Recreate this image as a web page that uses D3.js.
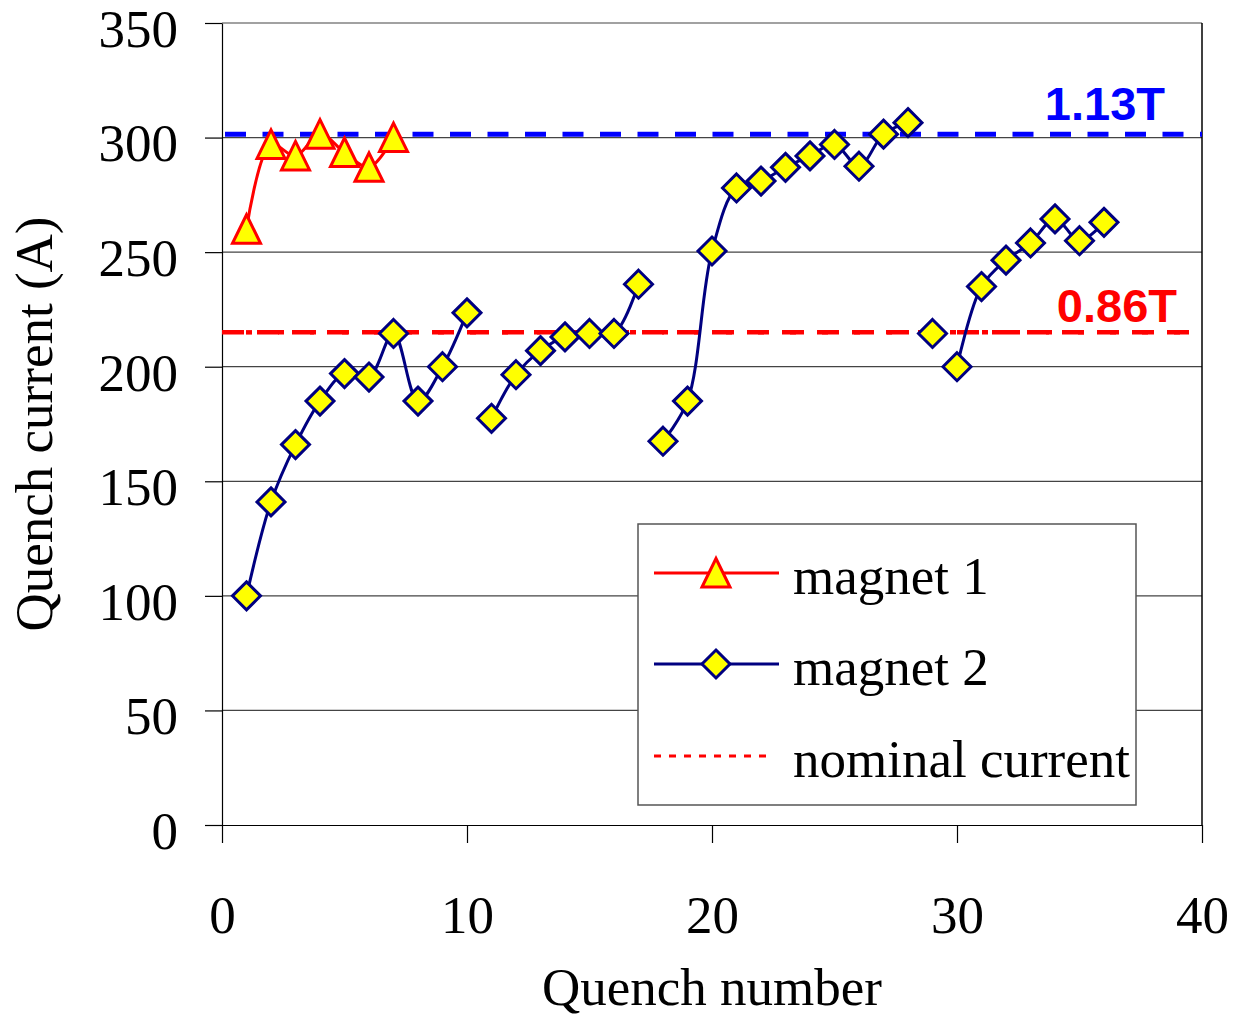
<!DOCTYPE html>
<html lang="en">
	<head>
		<meta charset="utf-8">
		<title>Quench current vs quench number</title>
		<script type="text/javascript" src="https://cdn.jsdelivr.net/npm/d3@7"></script>
		<style type="text/css">
			body { margin: 0; background: #fff; }
			.axis text { font-family: "Liberation Serif", "Times New Roman", serif; font-size: 53px; fill: #000; }
			.axis path, .axis line { stroke: #000; stroke-width: 1.2; }
		</style>
	</head>
	<body>

		<div id="quench"></div>

		<script type="text/javascript">

		// quench number for each magnet
		var magnet1X = [1, 2, 3, 4, 5, 6, 7]
		var magnet1Y = [260, 297, 292, 301.5, 293.5, 287, 300]

		var magnet2X = [1, 2, 3, 4, 5, 6, 7, 8, 9, 10,
			11, 12, 13, 14, 15, 16, 17,
			18, 19, 20, 21, 22, 23, 24, 25, 26, 27, 28,
			29, 30, 31, 32, 33, 34, 35, 36]
		var magnet2Y = [100, 141, 166, 185, 197, 195.5, 214.5, 185, 200, 223.5,
			177.5, 196.5, 207, 213, 214.5, 214.5, 236,
			167.5, 185, 250.5, 278, 281, 287, 292, 297, 287.5, 301.5, 306.5,
			214.5, 200, 235, 246.5, 254, 264.5, 255, 263]
		// test runs: the curve is broken between runs
		var magnet2Run = [1, 1, 1, 1, 1, 1, 1, 1, 1, 1,
			2, 2, 2, 2, 2, 2, 2,
			3, 3, 3, 3, 3, 3, 3, 3, 3, 3, 3,
			4, 5, 5, 5, 5, 5, 5, 5]

		var nominalCurrent = 215
		var maxCurrent = 301.5
		var yTicks = [0, 50, 100, 150, 200, 250, 300, 350]
		var xTicks = [0, 10, 20, 30, 40]
		var legendNames = ["magnet 1", "magnet 2", "nominal current"]

		drawQuench()

		function drawQuench(){

				var w = 1234
				var h = 1022
				var left = 222, right = 1202, top = 23, bottom = 825

				var svg = d3.select("#quench")
						.append("svg")
						.attr("width", w)
						.attr("height", h)

				svg.append("rect").attr("width", w).attr("height", h).attr("fill", "#fff")

				var xScale = d3.scaleLinear()
						.domain([0, 40])
						.range([left, right])

				var yScale = d3.scaleLinear()
						.domain([0, 350])
						.range([bottom, top])

				// gridlines
				svg.selectAll(".grid")
						.data(yTicks.filter(function(d){ return d > 0 }))
						.enter()
						.append("line")
						.attr("x1", left)
						.attr("x2", right)
						.attr("y1", function(d){ return yScale(d) })
						.attr("y2", function(d){ return yScale(d) })
						.attr("stroke", "#444")
						.attr("stroke-width", 1.2)

				// right edge of plot area
				svg.append("line")
						.attr("x1", right).attr("x2", right)
						.attr("y1", top).attr("y2", bottom)
						.attr("stroke", "#000")
						.attr("stroke-width", 1.5)

				var yAxis = d3.axisLeft(yScale)
						.tickValues(yTicks)
						.tickSize(17)
						.tickPadding(27)
						.tickSizeOuter(0)

				svg.append("g")
						.attr("class", "axis")
						.attr("transform", "translate(" + left + ",0)")
						.call(yAxis)
						.selectAll("text")
						.attr("dy", "0.44em")

				var xAxis = d3.axisBottom(xScale)
						.tickValues(xTicks)
						.tickSize(18)
						.tickSizeOuter(0)

				svg.append("g")
						.attr("class", "axis")
						.attr("transform", "translate(0," + bottom + ")")
						.call(xAxis)
						.selectAll("text")
						.attr("y", 108)
						.attr("dy", null)

				// reference lines
				svg.append("line")
						.attr("x1", left + 3).attr("x2", right)
						.attr("y1", yScale(maxCurrent)).attr("y2", yScale(maxCurrent))
						.attr("stroke", "#0000ff")
						.attr("stroke-width", 5)
						.attr("stroke-dasharray", "21,16.5")

				svg.append("line")
						.attr("x1", left).attr("x2", right)
						.attr("y1", yScale(nominalCurrent)).attr("y2", yScale(nominalCurrent))
						.attr("stroke", "#ff0000")
						.attr("stroke-width", 4.5)
						.attr("stroke-dasharray", "22,13")
				svg.append("line")
						.attr("x1", left).attr("x2", right)
						.attr("y1", yScale(nominalCurrent)).attr("y2", yScale(nominalCurrent))
						.attr("stroke", "#ff0000")
						.attr("stroke-width", 4.5)
						.attr("stroke-dasharray", "6,26")
						.attr("stroke-dashoffset", -24)

				svg.append("text")
						.attr("x", 1165).attr("y", 120)
						.attr("text-anchor", "end")
						.style("font-family", "'Liberation Sans', Arial, sans-serif")
						.style("font-weight", "bold")
						.style("font-size", "47px")
						.attr("fill", "#0000ff")
						.text("1.13T")

				svg.append("text")
						.attr("x", 1177).attr("y", 322)
						.attr("text-anchor", "end")
						.style("font-family", "'Liberation Sans', Arial, sans-serif")
						.style("font-weight", "bold")
						.style("font-size", "47px")
						.attr("fill", "#ff0000")
						.text("0.86T")

				var m1 = magnet1X.map(function(x, i){ return {x: x, y: magnet1Y[i]} })
				var m2 = magnet2X.map(function(x, i){ return {x: x, y: magnet2Y[i], run: magnet2Run[i]} })

				var line = d3.line()
						.x(function(d){ return xScale(d.x) })
						.y(function(d){ return yScale(d.y) })
						.curve(d3.curveCatmullRom.alpha(0.5))

				svg.append("path")
						.attr("d", line(m1))
						.attr("fill", "none")
						.attr("stroke", "#ff0000")
						.attr("stroke-width", 3)

				var runs = d3.groups(m2, function(d){ return d.run })
				svg.selectAll(".run")
						.data(runs)
						.enter()
						.append("path")
						.attr("d", function(d){ return line(d[1]) })
						.attr("fill", "none")
						.attr("stroke", "#000080")
						.attr("stroke-width", 3)

				var triangle = "M0,-14.5 L14,14 L-14,14 Z"
				var diamond = "M0,-14 L14,0 L0,14 L-14,0 Z"

				svg.selectAll(".tri")
						.data(m1)
						.enter()
						.append("path")
						.attr("d", triangle)
						.attr("transform", function(d){ return "translate(" + xScale(d.x) + "," + yScale(d.y) + ")" })
						.attr("fill", "#ffff00")
						.attr("stroke", "#ff0000")
						.attr("stroke-width", 3)
						.attr("stroke-linejoin", "miter")

				svg.selectAll(".dia")
						.data(m2)
						.enter()
						.append("path")
						.attr("d", diamond)
						.attr("transform", function(d){ return "translate(" + xScale(d.x) + "," + yScale(d.y) + ")" })
						.attr("fill", "#ffff00")
						.attr("stroke", "#000080")
						.attr("stroke-width", 3)

				// legend
				var lg = svg.append("g").attr("transform", "translate(638,524)")
				lg.append("rect")
						.attr("width", 498).attr("height", 281)
						.attr("fill", "#fff")
						.attr("stroke", "#555")
						.attr("stroke-width", 1.5)

				var rowY = [49, 140, 232]
				lg.append("line").attr("x1", 16).attr("x2", 141).attr("y1", rowY[0]).attr("y2", rowY[0])
						.attr("stroke", "#ff0000").attr("stroke-width", 3)
				lg.append("path").attr("d", triangle)
						.attr("transform", "translate(78," + rowY[0] + ")")
						.attr("fill", "#ffff00").attr("stroke", "#ff0000").attr("stroke-width", 3)

				lg.append("line").attr("x1", 16).attr("x2", 141).attr("y1", rowY[1]).attr("y2", rowY[1])
						.attr("stroke", "#000080").attr("stroke-width", 3)
				lg.append("path").attr("d", diamond)
						.attr("transform", "translate(78," + rowY[1] + ")")
						.attr("fill", "#ffff00").attr("stroke", "#000080").attr("stroke-width", 3)

				lg.append("line").attr("x1", 16).attr("x2", 131).attr("y1", rowY[2]).attr("y2", rowY[2])
						.attr("stroke", "#ff0000").attr("stroke-width", 3)
						.attr("stroke-dasharray", "7,8")

				lg.selectAll(".ltext")
						.data(legendNames)
						.enter()
						.append("text")
						.attr("x", 155)
						.attr("y", function(d, i){ return rowY[i] + 21 })
						.style("font-family", "'Liberation Serif', 'Times New Roman', serif")
						.style("font-size", "53px")
						.text(function(d){ return d })

				// axis titles
				svg.append("text")
						.attr("x", (left + right) / 2)
						.attr("y", 1005)
						.attr("text-anchor", "middle")
						.style("font-family", "'Liberation Serif', 'Times New Roman', serif")
						.style("font-size", "53px")
						.text("Quench number")

				svg.append("text")
						.attr("transform", "translate(52," + ((top + bottom) / 2) + ") rotate(-90)")
						.attr("text-anchor", "middle")
						.style("font-family", "'Liberation Serif', 'Times New Roman', serif")
						.style("font-size", "53px")
						.text("Quench current (A)")
		}

		</script>
	</body>
</html>
